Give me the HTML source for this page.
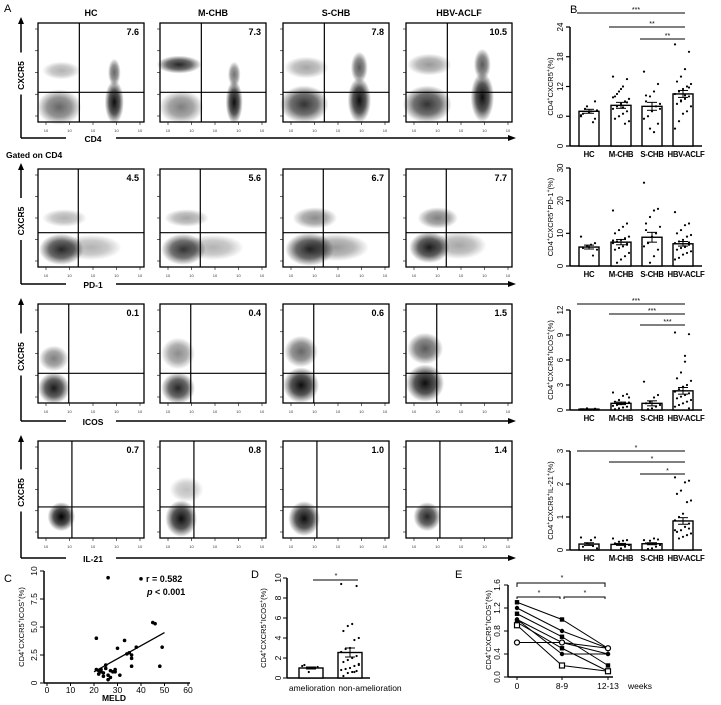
<!DOCTYPE html>
<html><head><meta charset="utf-8"><style>
body{margin:0;background:#fff;}
svg{display:block;font-family:"Liberation Sans",sans-serif;}
</style></head><body>
<svg id="fig" width="721" height="705" viewBox="0 0 721 705" xmlns="http://www.w3.org/2000/svg">
<defs>
<radialGradient id="cloud"><stop offset="0" stop-color="#000" stop-opacity="1"/><stop offset="0.55" stop-color="#000" stop-opacity="0.7"/><stop offset="1" stop-color="#000" stop-opacity="0"/></radialGradient>
</defs>
</svg>
<script>
// ===== Panel B data =====
const groups = ['HC','M-CHB','S-CHB','HBV-ACLF'];
const b1Means = [7, 8.2, 8, 10.5];
const b1Sem = [0.4, 0.6, 0.8, 0.7];
const b1Ticks = [0, 6, 12, 18, 24];
const b1Pts = [[6,5.5,7,8,6.5,7.2,4.8,6.8,7.5,6.2,9],[14,13.5,12,11,10,9.5,9,8.5,8,7.5,7,6.5,6,5.5,5,4.5,11.5,10.5,9.8,8.8,7.8],[15,12.5,11,10,9,8.5,8,7,6,5.5,4.5,2.8,3.5,10.2,7.5],[20.5,19,15.5,14,13,12.5,12,11.5,11,10.5,10,9.5,9,8.5,8,7,6.5,5,3.5,11.8,10.2,9.2]];
const b2Means = [5.8, 7.3, 8.8, 6.8];
const b2Sem = [0.6, 0.8, 1.5, 0.7];
const b2Ticks = [0, 10, 20, 30];
const b2Pts = [[9,7,6.5,6,5.5,5,3.2,5.8],[17,13,12,11,10,9,8.5,8,7.5,7,6.5,6,5.5,5,4,3,2,1,7.8,6.8],[25.5,17.5,17,15,13,12,10,9,7,6,5,3,1,11],[16.5,13,12.5,11,10,9.5,9,8,7.5,7,6.5,6,5.5,5,4.5,4,3.5,2.5,2,7.2,5.8]];
const b3Means = [0.1, 0.8, 0.8, 2.3];
const b3Sem = [0.03, 0.15, 0.3, 0.4];
const b3Ticks = [0, 3, 6, 9, 12];
const b3Pts = [[0.1,0.15,0.05,0.2,0.1,0.08],[2.1,1.9,1.7,1.2,1,0.9,0.8,0.7,0.6,0.5,0.4,0.3,0.2,0.1,1.5],[3.4,1.8,1.5,1,0.8,0.6,0.4,0.2,0.1],[9.3,9.1,6.5,4.5,3.8,3.5,3,2.8,2.5,2.2,2,1.8,1.6,1.4,1.2,1,0.8,0.6,0.4,0.2,5.8]];
const b4Means = [0.18, 0.17, 0.19, 0.88];
const b4Sem = [0.04, 0.03, 0.03, 0.1];
const b4Ticks = [0, 1, 2, 3];
const b4Pts = [[0.38,0.38,0.3,0.2,0.1,0.05,0.12],[0.35,0.3,0.28,0.25,0.2,0.15,0.1,0.05],[0.3,0.32,0.35,0.28,0.2,0.15,0.1,0.05,0.03],[2.2,2.1,2.05,1.8,1.7,1.5,1.45,1.1,1.0,0.9,0.8,0.7,0.6,0.55,0.5,0.45,0.4,0.35,0.6,0.65]];
// ===== Panel C data =====
const cMeld = [26,21,33,30,38,45,46,49,48,36,36,35,36,34,21,22,23,24,25,26,27,26,28,29,31,22,24,23,25,27,29,40];
const cIcos = [9.4,4,3.8,3.1,3.2,5.4,5.3,3.2,1.5,2.5,2.2,2.7,1.5,2.6,1.2,1.1,1.0,0.9,1.3,0.7,0.5,0.3,1.0,1.2,0.7,0.8,0.6,1.2,1.6,1.1,1.0,9.3];
const cFitX = [20, 50];
const cFitY = [1.0, 4.5];
const cXTicks = [0,10,20,30,40,50,60];
const cYTicks = [0,2.5,5.0,7.5,10];
// ===== Panel D data =====
const dGroups = ['amelioration','non-amelioration'];
const dMeans = [1.0, 2.55];
const dSem = [0.1, 0.45];
const dPts = [[1.2,1.1,1.0,0.6,1.3],[9.4,9.2,5.4,5.2,4.7,4,3.8,3,2.9,2.6,2.2,2,1.8,1.6,1.4,1.2,1.0,0.9,0.8,0.7,0.6,0.5,0.2,1.3,0.6]];
const dTicks = [0,2,4,6,8,10];
// ===== Panel E data =====
const eTimes = ['0','8-9','12-13'];
const eSeries = [[1.3,1.0,0.5],[1.2,0.8,0.5],[1.1,0.7,0.2],[1.0,0.6,0.4],[0.95,0.5,0.1],[0.9,0.2,0.1],[0.6,0.6,0.5],[1.0,0.4,0.4]];
const eMarkers = ['sq','circ','sq','circ','sq','osq','ocirc','circ'];
const eTicks = [0,0.4,0.8,1.2,1.6];

const svg = document.getElementById('fig');
const NS = 'http://www.w3.org/2000/svg';
function mk(tag, attrs, parent){ const e=document.createElementNS(NS,tag); for(const k in attrs) e.setAttribute(k,attrs[k]); (parent||svg).appendChild(e); return e; }
function txt(s, x, y, attrs, parent){ const e=mk('text',Object.assign({x:x,y:y,'font-size':9,fill:'#000'},attrs||{}),parent); e.textContent=s; return e; }
function sup(e, parts){ e.textContent=''; parts.forEach(p=>{ const t=document.createElementNS(NS,'tspan'); if(p[1]){t.setAttribute('baseline-shift','super'); t.setAttribute('font-size','70%');} t.textContent=p[0]; e.appendChild(t);}); }

// ===== Panel letters =====
let L;
L = txt('A', 4, 12, {'font-size':11});  
L = txt('B', 570, 13, {'font-size':11});  
L = txt('C', 4, 582, {'font-size':11});  
L = txt('D', 251, 578, {'font-size':11});  
L = txt('E', 455, 578, {'font-size':11});  

// ===== Panel A flow plots =====
const boxX = [38,160,283,406], boxW = 106;
const rows = [
 {y:23,h:99,gx:0.39,gy:0.70,xl:'CD4',ly:138,nums:['7.6','7.3','7.8','10.5'],clouds:[
   [[.2,.85,.21,.18,.6],[.72,.8,.09,.22,.95],[.72,.5,.06,.14,.6],[.22,.48,.18,.09,.3]],
   [[.2,.85,.21,.17,.5],[.7,.8,.08,.22,.95],[.7,.52,.06,.13,.55],[.18,.42,.21,.09,.85]],
   [[.2,.82,.23,.19,.8],[.72,.78,.11,.23,.95],[.72,.45,.08,.16,.65],[.22,.45,.21,.11,.35]],
   [[.2,.82,.23,.19,.8],[.72,.75,.11,.25,.95],[.72,.42,.08,.16,.65],[.22,.42,.21,.11,.4]]]},
 {y:169,h:98,gx:0.38,gy:0.65,xl:'PD-1',ly:284,nums:['4.5','5.6','6.7','7.7'],clouds:[
   [[.22,.82,.21,.16,.85],[.25,.5,.21,.09,.3],[.5,.8,.29,.13,.3]],
   [[.22,.82,.21,.16,.8],[.25,.5,.21,.09,.35],[.5,.8,.29,.13,.3]],
   [[.25,.82,.23,.17,.85],[.3,.5,.21,.11,.45],[.5,.8,.31,.14,.4]],
   [[.22,.8,.19,.16,.9],[.3,.5,.19,.11,.5],[.5,.78,.26,.14,.35]]]},
 {y:304,h:99,gx:0.29,gy:0.70,xl:'ICOS',ly:421,nums:['0.1','0.4','0.6','1.5'],clouds:[
   [[.15,.85,.15,.16,.9],[.15,.55,.14,.13,.5]],
   [[.17,.85,.16,.16,.85],[.17,.5,.16,.16,.45]],
   [[.17,.82,.17,.18,.95],[.17,.48,.16,.16,.6]],
   [[.18,.8,.18,.19,.95],[.18,.45,.17,.16,.65]]]},
 {y:441,h:97,gx:0.32,gy:0.68,xl:'IL-21',ly:558,nums:['0.7','0.8','1.0','1.4'],clouds:[
   [[.22,.78,.13,.15,1]],
   [[.2,.8,.15,.19,.95],[.25,.5,.16,.13,.25]],
   [[.2,.8,.15,.18,.95]],
   [[.2,.78,.13,.15,.85]]]}
];
const titles = ['HC','M-CHB','S-CHB','HBV-ACLF'];
titles.forEach((t,i)=>{ const e=txt(t, boxX[i]+boxW/2, 16, {'text-anchor':'middle','font-weight':'bold','font-size':9});
   });
const gt = txt('Gated on CD4', 6, 158, {'font-weight':'bold','font-size':8.5});
 

rows.forEach((r,ri)=>{
  const g = mk('g',{});
  
  
  const ax = 21, top = r.y-4, cy = r.y+r.h/2;
  mk('line',{x1:ax,y1:top,x2:ax,y2:cy-20,stroke:'#000','stroke-width':1.5},g);
  mk('polygon',{points:`${ax-3},${top+5} ${ax+3},${top+5} ${ax},${top-2}`,fill:'#000'},g);
  mk('line',{x1:ax,y1:cy+22,x2:ax,y2:r.ly,stroke:'#000','stroke-width':1.5},g);
  const yl = txt('CXCR5', ax, cy, {'text-anchor':'middle','font-weight':'bold','font-size':8.5,transform:`rotate(-90 ${ax+3} ${cy})`},g);
   
  mk('line',{x1:ax,y1:r.ly,x2:66,y2:r.ly,stroke:'#000','stroke-width':1.5},g);
  const xt = txt(r.xl, 93, r.ly+4, {'text-anchor':'middle','font-weight':'bold','font-size':8.5},g);
   
  mk('line',{x1:116,y1:r.ly,x2:510,y2:r.ly,stroke:'#000','stroke-width':1.5},g);
  mk('polygon',{points:`508,${r.ly-3} 508,${r.ly+3} 516,${r.ly}`,fill:'#000'},g);
  boxX.forEach((bx,bi)=>{
    const p = mk('g',{},g);
    
    
    mk('rect',{x:bx,y:r.y,width:boxW,height:r.h,fill:'#fff'},p);
    r.clouds[bi].forEach(c=>{
      mk('ellipse',{cx:bx+c[0]*boxW,cy:r.y+c[1]*r.h,rx:c[2]*boxW,ry:c[3]*r.h,fill:'url(#cloud)',opacity:c[4]},p);
    });
    mk('rect',{x:bx,y:r.y,width:boxW,height:r.h,fill:'none',stroke:'#000','stroke-width':1.3},p);
    mk('line',{x1:bx+r.gx*boxW,y1:r.y,x2:bx+r.gx*boxW,y2:r.y+r.h,stroke:'#000','stroke-width':1.2},p);
    mk('line',{x1:bx,y1:r.y+r.gy*r.h,x2:bx+boxW,y2:r.y+r.gy*r.h,stroke:'#000','stroke-width':1.2},p);
    for(let k=0;k<5;k++){ const tx=bx+8+k*(boxW-12)/4; mk('line',{x1:tx,y1:r.y+r.h,x2:tx,y2:r.y+r.h+3,stroke:'#000','stroke-width':0.6},p);
      txt('10',tx,r.y+r.h+10,{'font-size':4,'text-anchor':'middle',fill:'#333'},p);
      const ty=r.y+r.h-6-k*(r.h-12)/4; mk('line',{x1:bx-3,y1:ty,x2:bx,y2:ty,stroke:'#000','stroke-width':0.6},p);}
    const n = txt(r.nums[bi], bx+boxW-5, r.y+12, {'text-anchor':'end','font-weight':'bold','font-size':9},p);
     
  });
});

// ===== Panel B bar charts =====
const barCX = [589,621,652,683], barW = 20;
function barChart(name, yTop, yBot, max, ticks, means, sems, pts, sigs, ylabelParts){
  const g = mk('g',{});  
  const ys = v => yBot - (v/max)*(yBot-yTop);
  mk('line',{x1:570,y1:yTop,x2:570,y2:yBot,stroke:'#000','stroke-width':1.5},g);
  mk('line',{x1:570,y1:yBot,x2:702,y2:yBot,stroke:'#000','stroke-width':1.5},g);
  ticks.forEach(t=>{ mk('line',{x1:566,y1:ys(t),x2:570,y2:ys(t),stroke:'#000','stroke-width':1.2},g);
    txt(String(t),563,ys(t),{'font-size':8,'text-anchor':'middle',transform:`rotate(-90 563 ${ys(t)})`},g); });
  means.forEach((m,i)=>{
    const bar = mk('rect',{x:barCX[i]-barW/2,y:ys(m),width:barW,height:yBot-ys(m),fill:'#fff',stroke:'#000','stroke-width':1.4},g);
     
    pts[i].forEach((v,j)=>{ const dx=((j*7)%9-4)*2; mk('circle',{cx:barCX[i]+dx,cy:ys(v),r:1.1,fill:'#000'},g); });
    mk('line',{x1:barCX[i],y1:ys(m-sems[i]),x2:barCX[i],y2:ys(m+sems[i]),stroke:'#000','stroke-width':1},g);
    mk('line',{x1:barCX[i]-5,y1:ys(m+sems[i]),x2:barCX[i]+5,y2:ys(m+sems[i]),stroke:'#000','stroke-width':1},g);
    mk('line',{x1:barCX[i]-5,y1:ys(m-sems[i]),x2:barCX[i]+5,y2:ys(m-sems[i]),stroke:'#000','stroke-width':1},g);
    const lb = txt(groups[i], barCX[i]+(i===3?3:0), yBot+11, {'text-anchor':'middle','font-weight':'bold','font-size':7.8,'letter-spacing':'-0.3'},g);
     
  });
  sigs.forEach(s=>{ mk('line',{x1:barCX[s[0]]-12,y1:s[2],x2:barCX[s[1]]+2,y2:s[2],stroke:'#000','stroke-width':1},g);
    txt(s[3],(barCX[s[0]]+barCX[s[1]])/2,s[2]-1,{'text-anchor':'middle','font-size':7},g); });
  const yc=(yTop+yBot)/2;
  const yl = txt('',553,yc,{'text-anchor':'middle','font-size':7.5,transform:`rotate(-90 553 ${yc})`},g);
  sup(yl, ylabelParts);
   
}
barChart('bar-chart-cxcr5', 27, 146, 24, b1Ticks, b1Means, b1Sem, b1Pts, [[0,3,13,'***'],[1,3,27,'**'],[2,3,39,'**']], [['CD4',0],['+',1],['CXCR5',0],['+',1],['(%)',0]]);
barChart('bar-chart-pd1', 168, 266, 30, b2Ticks, b2Means, b2Sem, b2Pts, [], [['CD4',0],['+',1],['CXCR5',0],['+',1],['PD-1',0],['+',1],['(%)',0]]);
barChart('bar-chart-icos', 310, 410, 12, b3Ticks, b3Means, b3Sem, b3Pts, [[0,3,304,'***'],[1,3,314,'***'],[2,3,325,'***']], [['CD4',0],['+',1],['CXCR5',0],['+',1],['ICOS',0],['+',1],['(%)',0]]);
barChart('bar-chart-il21', 451, 550, 3, b4Ticks, b4Means, b4Sem, b4Pts, [[0,3,451,'*'],[1,3,462,'*'],[2,3,474,'*']], [['CD4',0],['+',1],['CXCR5',0],['+',1],['IL-21',0],['+',1],['(%)',0]]);

// ===== Panel C scatter =====
(function(){
  const g = mk('g',{});  
  const x0=47,x1=188,y0=683,y1=571;
  const xs=v=>x0+v/60*(x1-x0), ys=v=>y0-v/10*(y0-y1);
  mk('line',{x1:44,y1:y1,x2:44,y2:y0,stroke:'#000','stroke-width':1.5},g);
  mk('line',{x1:44,y1:y0,x2:x1+2,y2:y0,stroke:'#000','stroke-width':1.5},g);
  cXTicks.forEach(t=>{ mk('line',{x1:xs(t),y1:y0,x2:xs(t),y2:y0+3,stroke:'#000'},g); txt(String(t),xs(t),y0+10,{'text-anchor':'middle','font-size':8.5},g); });
  cYTicks.forEach(t=>{ mk('line',{x1:40,y1:ys(t),x2:44,y2:ys(t),stroke:'#000'},g); txt(t===0?'0':t.toFixed(1).replace('10.0','10'),37,ys(t),{'text-anchor':'middle','font-size':8.5,transform:`rotate(-90 37 ${ys(t)})`},g); });
  cMeld.forEach((m,i)=>{ const c=mk('circle',{cx:xs(m),cy:ys(cIcos[i]),r:1.8,fill:'#000'},g);   });
  mk('line',{x1:xs(cFitX[0]),y1:ys(cFitY[0]),x2:xs(cFitX[1]),y2:ys(cFitY[1]),stroke:'#000','stroke-width':1.3},g);
  txt('r = 0.582',146,582,{'font-weight':'bold','font-size':9},g);
  const p=txt('',147,595,{'font-weight':'bold','font-size':9},g);
  p.innerHTML='<tspan font-style="italic">p</tspan> &lt; 0.001';
  const xl=txt('MELD',114,701,{'text-anchor':'middle','font-weight':'bold','font-size':8.5},g);  
  const yl=txt('',24,627,{'text-anchor':'middle','font-size':7.5,transform:'rotate(-90 24 627)'},g);
  sup(yl,[['CD4',0],['+',1],['CXCR5',0],['+',1],['ICOS',0],['+',1],['(%)',0]]);
   
})();

// ===== Panel D =====
(function(){
  const g = mk('g',{});  
  const y0=678,y1=578, ys=v=>y0-v/10*(y0-y1); const cx=[311,350];
  mk('line',{x1:287,y1:y1,x2:287,y2:y0,stroke:'#000','stroke-width':1.5},g);
  mk('line',{x1:287,y1:y0,x2:370,y2:y0,stroke:'#000','stroke-width':1.5},g);
  dTicks.forEach(t=>{ mk('line',{x1:283,y1:ys(t),x2:287,y2:ys(t),stroke:'#000'},g); txt(String(t),281,ys(t),{'text-anchor':'middle','font-size':8.5,transform:`rotate(-90 281 ${ys(t)})`},g); });
  dMeans.forEach((m,i)=>{
    const b=mk('rect',{x:cx[i]-12,y:ys(m),width:24,height:y0-ys(m),fill:'#fff',stroke:'#000','stroke-width':1.4},g);
     
    dPts[i].forEach((v,j)=>{ const dx=((j*7)%9-4)*2.2; mk('circle',{cx:cx[i]+dx,cy:ys(v),r:1.1,fill:'#000'},g); });
    mk('line',{x1:cx[i],y1:ys(m-dSem[i]),x2:cx[i],y2:ys(m+dSem[i]),stroke:'#000'},g);
    mk('line',{x1:cx[i]-5,y1:ys(m+dSem[i]),x2:cx[i]+5,y2:ys(m+dSem[i]),stroke:'#000'},g);
    mk('line',{x1:cx[i]-5,y1:ys(m-dSem[i]),x2:cx[i]+5,y2:ys(m-dSem[i]),stroke:'#000'},g);
  });
  txt('amelioration',312,691,{'text-anchor':'middle','font-size':8.5},g);
  txt('non-amelioration',370,691,{'text-anchor':'middle','font-size':8.5},g);
  mk('line',{x1:313,y1:580,x2:358,y2:580,stroke:'#000'},g); txt('*',336,578,{'text-anchor':'middle','font-size':7},g);
  const yl=txt('',266,628,{'text-anchor':'middle','font-size':7.5,transform:'rotate(-90 266 628)'},g);
  sup(yl,[['CD4',0],['+',1],['CXCR5',0],['+',1],['ICOS',0],['+',1],['(%)',0]]);
   
})();

// ===== Panel E =====
(function(){
  const g = mk('g',{});  
  const y0=677,y1=585, ys=v=>y0-v/1.6*(y0-y1); const xs=[517,562,608];
  mk('line',{x1:508,y1:y1,x2:508,y2:y0,stroke:'#000','stroke-width':1.5},g);
  mk('line',{x1:508,y1:y0,x2:613,y2:y0,stroke:'#000','stroke-width':1.5},g);
  eTicks.forEach(t=>{ mk('line',{x1:504,y1:ys(t),x2:508,y2:ys(t),stroke:'#000'},g); txt(t.toFixed(1),500,ys(t),{'text-anchor':'middle','font-size':8.5,transform:`rotate(-90 500 ${ys(t)})`},g); });
  eTimes.forEach((t,i)=>{ mk('line',{x1:xs[i],y1:y0,x2:xs[i],y2:y0+3,stroke:'#000'},g); txt(t,xs[i],y0+12,{'text-anchor':'middle','font-size':8.5},g); });
  txt('weeks',640,y0+12,{'text-anchor':'middle','font-size':8.5},g);
  eSeries.forEach((s,si)=>{
    const pl=mk('polyline',{points:s.map((v,i)=>xs[i]+','+ys(v)).join(' '),fill:'none',stroke:'#000','stroke-width':1},g);
     
    s.forEach((v,i)=>{ const m=eMarkers[si], x=xs[i], y=ys(v);
      if(m==='sq') mk('rect',{x:x-2.2,y:y-2.2,width:4.4,height:4.4,fill:'#000'},g);
      else if(m==='osq') mk('rect',{x:x-2.5,y:y-2.5,width:5,height:5,fill:'#fff',stroke:'#000','stroke-width':1.2},g);
      else if(m==='ocirc') mk('circle',{cx:x,cy:y,r:2.5,fill:'#fff',stroke:'#000','stroke-width':1.2},g);
      else mk('circle',{cx:x,cy:y,r:2.2,fill:'#000'},g); });
  });
  mk('polyline',{points:'517,587 517,583 605,583 605,587',fill:'none',stroke:'#000'},g); txt('*',562,580,{'text-anchor':'middle','font-size':7},g);
  mk('polyline',{points:'517,599 517,597 560,597 560,599',fill:'none',stroke:'#000'},g); txt('*',539,595,{'text-anchor':'middle','font-size':7},g);
  mk('polyline',{points:'564,599 564,597 605,597 605,599',fill:'none',stroke:'#000'},g); txt('*',585,595,{'text-anchor':'middle','font-size':7},g);
  const yl=txt('',491,630,{'text-anchor':'middle','font-size':7.5,transform:'rotate(-90 491 630)'},g);
  sup(yl,[['CD4',0],['+',1],['CXCR5',0],['+',1],['ICOS',0],['+',1],['(%)',0]]);
   
})();
</script>
</body></html>
